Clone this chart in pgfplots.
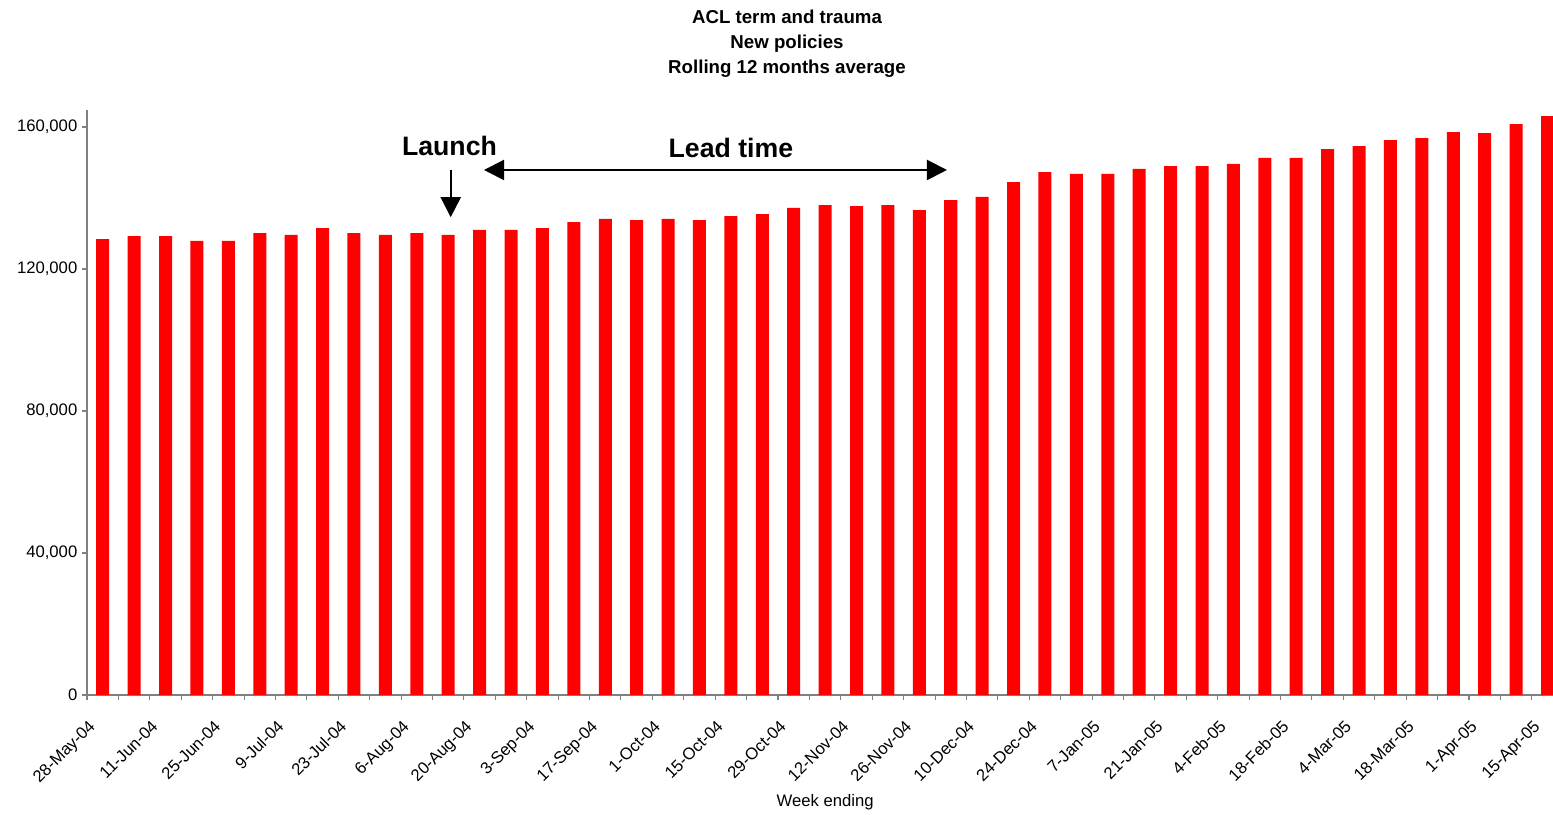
\documentclass[border=0pt]{standalone}
\usepackage{pgfplots}
\pgfplotsset{compat=1.18}
\usepackage{fontspec}
\setmainfont{Liberation Sans}
\usetikzlibrary{arrows.meta}

\pgfplotstableread{
idx value
0  128400
1  129300
2  129300
3  127900
4  127900
5  130100
6  129600
7  131500
8  130100
9  129600
10 130100
11 129600
12 131000
13 131000
14 131500
15 133200
16 134100
17 133800
18 134100
19 133800
20 134900
21 135500
22 137200
23 138000
24 137700
25 138000
26 136600
27 139400
28 140300
29 144500
30 147300
31 146800
32 146800
33 148200
34 149000
35 149000
36 149600
37 151300
38 151300
39 153800
40 154600
41 156300
42 156900
43 158600
44 158300
45 160800
46 163100
}\policies

\definecolor{axisgray}{RGB}{128,128,128}

\begin{document}
\begin{tikzpicture}
% page frame, 1px = 0.75pt
\path[use as bounding box] (0pt,0pt) rectangle (1164.75pt,610.5pt);
\begin{axis}[
  at={(65.25pt,89.25pt)}, anchor=south west,
  scale only axis, width=1107.2pt, height=438.75pt,
  xmin=-0.5, xmax=46.5, ymin=0, ymax=164800,
  axis x line*=bottom, axis y line*=left,
  axis line style={-, draw=axisgray, line width=0.9pt},
  tick align=outside,
  major tick length=3.75pt, minor tick length=3.5pt,
  tick style={draw=axisgray, line width=0.8pt},
  every major x tick/.append style={draw=none},
  xtick={0,2,...,46},
  minor xtick={-0.5,0.5,...,46.5},
  xticklabels={28-May-04,11-Jun-04,25-Jun-04,9-Jul-04,23-Jul-04,6-Aug-04,20-Aug-04,3-Sep-04,17-Sep-04,1-Oct-04,15-Oct-04,29-Oct-04,12-Nov-04,26-Nov-04,10-Dec-04,24-Dec-04,7-Jan-05,21-Jan-05,4-Feb-05,18-Feb-05,4-Mar-05,18-Mar-05,1-Apr-05,15-Apr-05},
  xticklabel style={rotate=45, anchor=north east, inner sep=1pt, xshift=-17pt, yshift=-1pt, font=\fontsize{12.5}{14}\selectfont},
  ytick={0,40000,80000,120000,160000},
  yticklabels={0,{40,000},{80,000},{120,000},{160,000}},
  scaled y ticks=false,
  yticklabel style={font=\fontsize{12.5}{14}\selectfont},
  xlabel={Week ending},
  xlabel style={at={(axis description cs:0.5,-0.1829)}, anchor=center, font=\fontsize{12.5}{15}\selectfont},
  title={ACL term and trauma\\New policies\\Rolling 12 months average},
  title style={at={(axis description cs:0.4742,1.0991)}, anchor=center, align=center, font=\bfseries\fontsize{14}{18.75}\selectfont},
  clip=false,
]
\addplot[ybar, bar width=9.75pt, fill={rgb,255:red,255;green,0;blue,0}, draw=none] table[x=idx, y=value] {\policies};

% launch marker and lead-time span
\draw[line width=1.5pt, -{Triangle[length=15pt,width=15pt]}] (axis cs:11.08,147900) -- (axis cs:11.08,134600);
\draw[line width=1.5pt, {Triangle[length=15pt,width=15pt]}-{Triangle[length=15pt,width=15pt]}] (axis cs:12.14,147900) -- (axis cs:26.88,147900);
\node[font=\bfseries\fontsize{20}{24}\selectfont] at (axis cs:11.04,154650) {Launch};
\node[font=\bfseries\fontsize{20}{24}\selectfont] at (axis cs:20.0,154050) {Lead time};
\end{axis}
\end{tikzpicture}
\end{document}
